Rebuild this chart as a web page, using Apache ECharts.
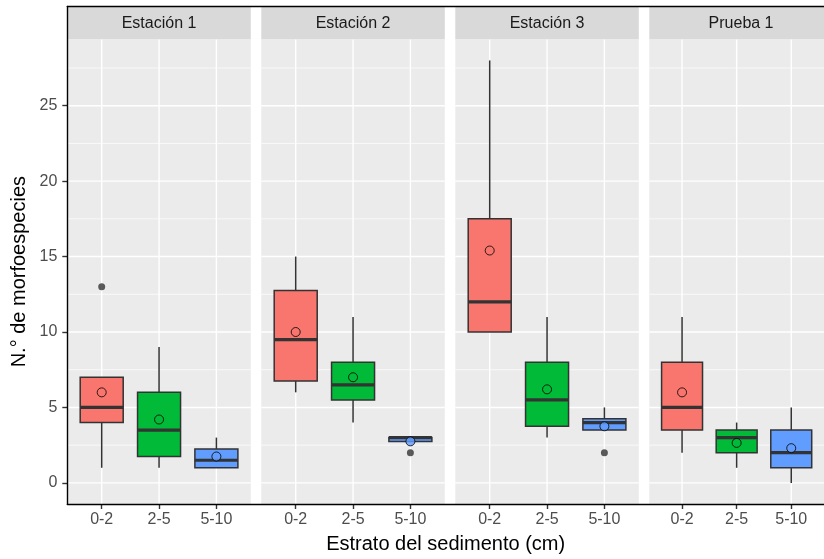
<!DOCTYPE html>
<html><head><meta charset="utf-8">
<script src="https://cdn.jsdelivr.net/npm/echarts@6/dist/echarts.min.js"></script>
<style>html,body{margin:0;padding:0;background:#fff}#c{width:824px;height:559px}</style>
</head><body><div id="c"></div>
<script>
// ---- data ----
const facets = ['Estación 1', 'Estación 2', 'Estación 3', 'Prueba 1'];
const categories = ['0-2', '2-5', '5-10'];
const yTicks = [0, 5, 10, 15, 20, 25];
const yMinorLines = [2.5, 7.5, 12.5, 17.5, 22.5, 27.5];
// box statistics: one row per facet, one column per category
const whiskerLow  = [[1, 1, 1], [6, 4, 2.75], [10, 3, 3.5], [2, 1, 0]];
const q1          = [[4, 1.75, 1], [6.75, 5.5, 2.75], [10, 3.75, 3.5], [3.5, 2, 1]];
const median      = [[5, 3.5, 1.5], [9.5, 6.5, 3], [12, 5.5, 4], [5, 3, 2]];
const q3          = [[7, 6, 2.25], [12.75, 8, 3], [17.5, 8, 4.25], [8, 3.5, 3.5]];
const whiskerHigh = [[7, 9, 3], [15, 11, 3], [28, 11, 5], [11, 4, 5]];
const means       = [[6, 4.2, 1.75], [10, 7, 2.75], [15.4, 6.2, 3.75], [6, 2.65, 2.3]];
const outliers    = [[[0, 13]], [[2, 2]], [[2, 2]], []]; // [category index, value]
const fillColors = ['#F8766D', '#00BA38', '#619CFF'];

// ---- layout ----
const FONT = 'Liberation Sans, Arial, sans-serif';
const L0 = 67.3, PW = 183.5, STEP = 194, PTOP = 39.3, PH = 464.7, STRIP_TOP = 6.5;
const Y_MIN = -1.4, Y_MAX = 29.4, X_MIN = -0.6, X_MAX = 2.6;
const catIdx = categories.map((c, k) => k);

const grids = [], xAxes = [], yAxes = [], series = [], graphics = [];

facets.forEach((f, i) => {
  const left = L0 + i * STEP;
  grids.push({left: left, top: PTOP, width: PW, height: PH, show: true,
    backgroundColor: '#EBEBEB', borderWidth: 0});
  xAxes.push({gridIndex: i, type: 'value', min: X_MIN, max: X_MAX, position: 'bottom',
    axisLine: {show: false, onZero: false}, splitLine: {show: false},
    axisTick: {show: true, length: 5, customValues: catIdx, lineStyle: {color: '#333', width: 1.4}},
    axisLabel: {show: true, customValues: catIdx, formatter: v => categories[Math.round(v)],
      color: '#4D4D4D', fontSize: 16, fontFamily: FONT, margin: 8}});
  yAxes.push({gridIndex: i, type: 'value', min: Y_MIN, max: Y_MAX, position: 'left',
    axisLine: {show: false, onZero: false}, splitLine: {show: false},
    axisTick: {show: i === 0, length: 5, customValues: yTicks, lineStyle: {color: '#333', width: 1.4}},
    axisLabel: {show: i === 0, customValues: yTicks, color: '#4D4D4D', fontSize: 16, fontFamily: FONT, margin: 10},
    name: i === 0 ? 'N.° de morfoespecies' : '', nameLocation: 'middle', nameGap: 38,
    nameTextStyle: {fontSize: 20, color: '#000', fontFamily: FONT}});

  // panel grid lines
  series.push({type: 'custom', xAxisIndex: i, yAxisIndex: i, z: 1, silent: true,
    data: [[0, 0]],
    renderItem: function (params, api) {
      const cs = params.coordSys;
      const ch = [];
      yMinorLines.forEach(v => {
        const y = api.coord([X_MIN, v])[1];
        ch.push({type: 'line', shape: {x1: cs.x, y1: y, x2: cs.x + cs.width, y2: y},
          style: {stroke: '#FFFFFF', lineWidth: 0.7}});
      });
      yTicks.forEach(v => {
        const y = api.coord([X_MIN, v])[1];
        ch.push({type: 'line', shape: {x1: cs.x, y1: y, x2: cs.x + cs.width, y2: y},
          style: {stroke: '#FFFFFF', lineWidth: 1.4}});
      });
      catIdx.forEach(k => {
        const x = api.coord([k, Y_MIN])[0];
        ch.push({type: 'line', shape: {x1: x, y1: cs.y, x2: x, y2: cs.y + cs.height},
          style: {stroke: '#FFFFFF', lineWidth: 1.4}});
      });
      return {type: 'group', children: ch};
    }});

  // boxes
  series.push({type: 'custom', xAxisIndex: i, yAxisIndex: i, z: 2,
    encode: {x: 0, y: [1, 2, 3, 4, 5]},
    data: catIdx.map(k => [k, whiskerLow[i][k], q1[i][k], median[i][k], q3[i][k], whiskerHigh[i][k]]),
    renderItem: function (params, api) {
      const k = api.value(0);
      const cx = api.coord([k, 0])[0];
      const half = api.size([1, 0])[0] * 0.75 / 2;
      const yLo = api.coord([k, api.value(1)])[1];
      const yQ1 = api.coord([k, api.value(2)])[1];
      const yMd = api.coord([k, api.value(3)])[1];
      const yQ3 = api.coord([k, api.value(4)])[1];
      const yHi = api.coord([k, api.value(5)])[1];
      const st = {stroke: '#333333', lineWidth: 1.5};
      return {type: 'group', children: [
        {type: 'line', shape: {x1: cx, y1: yHi, x2: cx, y2: yQ3}, style: st},
        {type: 'line', shape: {x1: cx, y1: yQ1, x2: cx, y2: yLo}, style: st},
        {type: 'rect', shape: {x: cx - half, y: yQ3, width: 2 * half, height: yQ1 - yQ3},
          style: {fill: fillColors[k], stroke: '#333333', lineWidth: 1.5}},
        {type: 'line', shape: {x1: cx - half, y1: yMd, x2: cx + half, y2: yMd},
          style: {stroke: '#333333', lineWidth: 3.2}}
      ]};
    }});

  // outliers
  series.push({type: 'scatter', xAxisIndex: i, yAxisIndex: i, z: 3, symbol: 'circle', symbolSize: 7,
    itemStyle: {color: '#333333'}, data: outliers[i]});

  // means
  series.push({type: 'scatter', xAxisIndex: i, yAxisIndex: i, z: 4, symbol: 'circle', symbolSize: 9,
    data: catIdx.map(k => ({value: [k, means[i][k]],
      itemStyle: {color: fillColors[k], borderColor: '#000', borderWidth: 1}}))});

  // strip
  graphics.push({type: 'rect', z: 5, shape: {x: left, y: STRIP_TOP, width: PW, height: PTOP - STRIP_TOP},
    style: {fill: '#D9D9D9'}});
  graphics.push({type: 'text', z: 6, x: left + PW / 2, y: (STRIP_TOP + PTOP) / 2 + 0.5,
    style: {text: f, fill: '#1A1A1A', font: '16px ' + FONT, textAlign: 'center', textVerticalAlign: 'middle'}});
});

// overlay frame: bottom, top and left lines spanning all panels
grids.push({left: L0, top: STRIP_TOP, width: 3 * STEP + PW, height: PTOP + PH - STRIP_TOP, show: false});
const frameLine = {show: true, onZero: false, lineStyle: {color: '#000', width: 1.4}};
xAxes.push({gridIndex: 4, type: 'value', min: 0, max: 1, position: 'bottom', z: 10,
  axisLine: frameLine, axisTick: {show: false}, axisLabel: {show: false}, splitLine: {show: false},
  name: 'Estrato del sedimento (cm)', nameLocation: 'middle', nameGap: 30,
  nameTextStyle: {fontSize: 20, color: '#000', fontFamily: FONT}});
xAxes.push({gridIndex: 4, type: 'value', min: 0, max: 1, position: 'top', z: 10,
  axisLine: frameLine, axisTick: {show: false}, axisLabel: {show: false}, splitLine: {show: false}});
yAxes.push({gridIndex: 4, type: 'value', min: 0, max: 1, position: 'left', z: 10,
  axisLine: frameLine, axisTick: {show: false}, axisLabel: {show: false}, splitLine: {show: false}});

const chart = echarts.init(document.getElementById('c'), null, {renderer: 'canvas'});
chart.setOption({
  animation: false,
  backgroundColor: '#FFFFFF',
  textStyle: {fontFamily: FONT},
  grid: grids, xAxis: xAxes, yAxis: yAxes, series: series,
  graphic: {elements: graphics}
});
</script>
</body></html>
